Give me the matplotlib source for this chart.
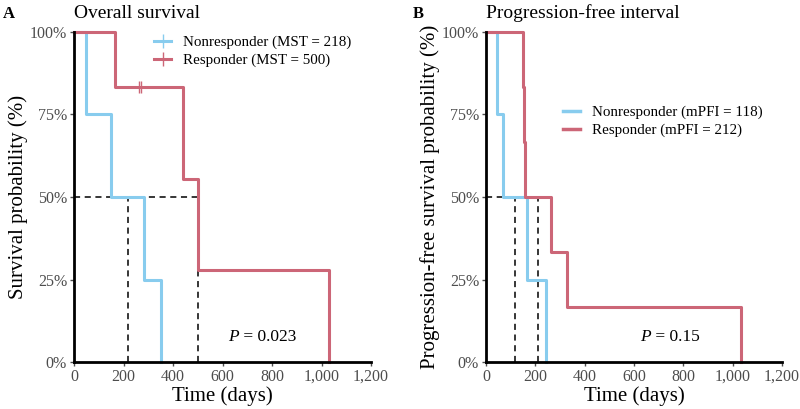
import matplotlib.pyplot as plt
from matplotlib.lines import Line2D

plt.rcParams['font.family'] = ['Liberation Serif', 'DejaVu Serif']

blue = '#88CCEE'
red = '#CC6677'
grey = '#4D4D4D'

# Overall survival (step data, days / survival fraction)
os_non_t = [0, 48, 150, 283, 351]
os_non_s = [1, 0.75, 0.5, 0.25, 0]
os_res_t = [0, 166, 440, 500, 1031]
os_res_s = [1, 5/6, 5/9, 5/18, 0]
os_res_cens_t = [264, 270]
os_res_cens_s = [5/6, 5/6]
os_medians = [218, 500]

# Progression-free interval
pfi_non_t = [0, 46, 68, 165, 242]
pfi_non_s = [1, 0.75, 0.5, 0.25, 0]
pfi_res_t = [0, 151, 155, 159, 262, 327, 1032]
pfi_res_s = [1, 5/6, 4/6, 3/6, 2/6, 1/6, 0]
pfi_medians = [118, 212]

x_ticks = [0, 200, 400, 600, 800, 1000, 1200]
x_labels = ['0', '200', '400', '600', '800', '1,000', '1,200']
y_ticks = [0, 0.25, 0.5, 0.75, 1]
y_labels = ['0%', '25%', '50%', '75%', '100%']

fig = plt.figure(figsize=(8, 4.09), dpi=100)
axA = fig.add_axes([0.0925, 0.1149, 0.3713, 0.8069])
axB = fig.add_axes([0.6075, 0.1149, 0.37, 0.8069])


def style_axes(ax, ylabel):
    ax.set_xlim(0, 1200)
    ax.set_ylim(0, 1)
    for s in ['top', 'right']:
        ax.spines[s].set_visible(False)
    for s in ['left', 'bottom']:
        ax.spines[s].set_linewidth(2)
        ax.spines[s].set_color('black')
    ax.set_xticks(x_ticks)
    ax.set_xticklabels(x_labels)
    ax.set_yticks(y_ticks)
    ax.set_yticklabels(y_labels)
    ax.tick_params(axis='both', colors=grey, labelsize=11.5, length=3, width=1, pad=2)
    ax.set_xlabel('Time (days)', fontsize=15, labelpad=1)
    ax.set_ylabel(ylabel, fontsize=15, labelpad=1)


def median_lines(ax, meds):
    ax.plot([0, max(meds)], [0.5, 0.5], ls='--', color='black', lw=1.1, dashes=(4, 3))
    for m in meds:
        ax.plot([m, m], [0, 0.5], ls='--', color='black', lw=1.1, dashes=(4, 3))


def p_text(ax, x, value):
    t = ax.text(x, 0.075, 'P', fontsize=12.5, fontstyle='italic', ha='left', va='center')
    ax.annotate(' = ' + value, xycoords=t, xy=(1, 0.5), va='center', ha='left',
                fontsize=12.5)


# Panel A
median_lines(axA, os_medians)
axA.step(os_non_t, os_non_s, where='post', color=blue, lw=2.2, clip_on=False)
axA.step(os_res_t, os_res_s, where='post', color=red, lw=2.2, clip_on=False)
axA.plot(os_res_cens_t, os_res_cens_s, ls='none', marker='|', ms=9, mew=1, color=red)
style_axes(axA, 'Survival probability (%)')
axA.set_title('Overall survival', fontsize=14, loc='left', pad=10)
p_text(axA, 622, '0.023')
handles = [Line2D([], [], color=blue, lw=2.2, marker='|', ms=10, mew=1),
           Line2D([], [], color=red, lw=2.2, marker='|', ms=10, mew=1)]
axA.legend(handles, ['Nonresponder (MST = 218)', 'Responder (MST = 500)'],
           loc='upper left', bbox_to_anchor=(0.225, 1.03), frameon=False,
           fontsize=10.8, handlelength=1.1, handletextpad=0.8, labelspacing=0.3)
fig.text(0.004, 0.985, 'A', fontsize=12, fontweight='bold', va='top')

# Panel B
median_lines(axB, pfi_medians)
axB.step(pfi_non_t, pfi_non_s, where='post', color=blue, lw=2.2, clip_on=False)
axB.step(pfi_res_t, pfi_res_s, where='post', color=red, lw=2.2, clip_on=False)
style_axes(axB, 'Progression-free survival probability (%)')
axB.set_title('Progression-free interval', fontsize=14, loc='left', pad=10)
p_text(axB, 624, '0.15')
handles = [Line2D([], [], color=blue, lw=2.5),
           Line2D([], [], color=red, lw=2.5)]
axB.legend(handles, ['Nonresponder (mPFI = 118)', 'Responder (mPFI = 212)'],
           loc='upper left', bbox_to_anchor=(0.215, 0.818), frameon=False,
           fontsize=10.8, handlelength=1.1, handletextpad=0.8, labelspacing=0.3)
fig.text(0.516, 0.985, 'B', fontsize=12, fontweight='bold', va='top')

fig.savefig('out.png', dpi=100)
